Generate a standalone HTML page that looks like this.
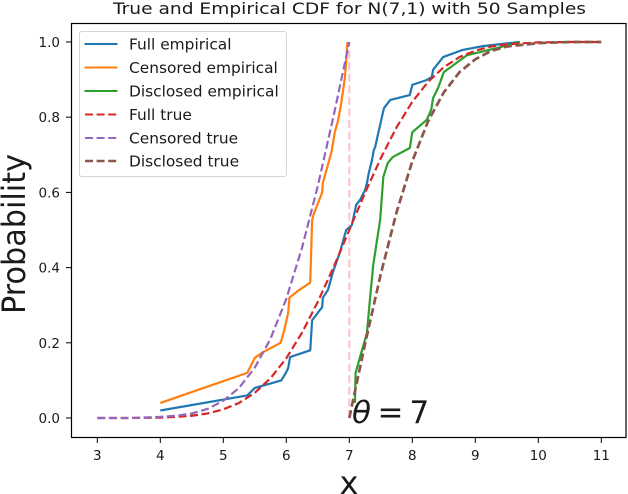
<!DOCTYPE html>
<html>
<head>
<meta charset="utf-8">
<title>True and Empirical CDF</title>
<style>
html,body{margin:0;padding:0;background:#fff;width:628px;height:494px;overflow:hidden}
svg{display:block;position:absolute;left:0;top:0;filter:blur(0.35px)}
text{font-family:"DejaVu Sans","Liberation Sans",sans-serif;fill:#1a1a1a}
</style>
</head>
<body>
<svg id="chart" width="628" height="494" viewBox="0 0 628 494" xmlns="http://www.w3.org/2000/svg"></svg>
<script>
const xTicks = [3,4,5,6,7,8,9,10,11];
const yTicks = [0,0.2,0.4,0.6,0.8,1.0];
const yTickLabels = ["0.0","0.2","0.4","0.6","0.8","1.0"];

const fullEmpX = [4.0,5.38,5.5,5.92,6.0,6.03,6.06,6.38,6.41,6.57,6.58,6.66,6.74,6.85,6.95,7.01,7.04,7.11,7.17,7.25,7.28,7.31,7.36,7.39,7.41,7.46,7.55,7.65,7.96,8.0,8.23,8.31,8.33,8.49,8.8,9.12,9.7];
const fullEmpY = [.02,.06,.08,.10,.122,.133,.162,.18,.26,.295,.32,.34,.388,.44,.5,.508,.513,.567,.58,.606,.625,.652,.686,.713,.72,.758,.824,.846,.859,.886,.899,.907,.926,.96,.979,.989,1.0];

const censEmpX = [4.0,5.38,5.5,5.63,5.91,5.97,6.03,6.05,6.2,6.38,6.41,6.43,6.57,6.58,6.65,6.72,6.77,6.82,6.87,6.93,6.95,6.97];
const censEmpY = [.04,.12,.16,.175,.2,.235,.28,.32,.34,.36,.525,.54,.6,.625,.667,.71,.76,.79,.835,.905,.95,1.0];

const discEmpX = [7.09,7.10,7.15,7.28,7.33,7.38,7.44,7.49,7.54,7.61,7.69,7.96,8.0,8.23,8.3,8.33,8.41,8.5,8.87,9.34,9.71];
const discEmpY = [.04,.12,.15,.226,.32,.407,.473,.527,.641,.678,.694,.718,.76,.793,.82,.851,.878,.92,.965,.984,1.0];

const fullTrueX = [3,3.5,4,4.25,4.5,4.75,5,5.25,5.5,5.75,6,6.25,6.5,6.75,7,7.25,7.5,7.75,8,8.25,8.5,8.75,9,9.25,9.5,10,10.5,11];
const fullTrueY = [0,0,.001,.003,.006,.012,.023,.040,.067,.106,.159,.227,.309,.401,.5,.599,.691,.773,.841,.894,.933,.960,.977,.988,.994,.999,1,1];

const censTrueX = [3,3.5,4,4.25,4.5,4.75,5,5.25,5.5,5.75,6,6.25,6.5,6.75,7];
const censTrueY = [0,0,.003,.006,.012,.024,.046,.080,.134,.211,.317,.453,.617,.803,1.0];

const discTrueX = [7,7.25,7.5,7.75,8,8.25,8.5,8.75,9,9.25,9.5,10,10.5,11];
const discTrueY = [0,.197,.383,.547,.683,.789,.866,.920,.954,.976,.988,.997,1,1];

const thetaValue = 7;
const NS = "http://www.w3.org/2000/svg";
const svg = document.getElementById("chart");

const sx = v => 97.3 + (v - 3) * 63;
const sy = v => 418 - v * 376;

function make(tag, attrs, parent, text) {
  const el = document.createElementNS(NS, tag);
  for (const k in attrs) el.setAttribute(k, attrs[k]);
  if (text !== undefined) el.textContent = text;
  (parent || svg).appendChild(el);
  return el;
}

function drawSeries(xs, ys, name, color, width, dash) {
  const pts = xs.map((x, i) => sx(x).toFixed(2) + "," + sy(ys[i]).toFixed(2)).join(" ");
  const el = make("polyline", {points: pts, fill: "none", stroke: color, "stroke-width": width, "stroke-linejoin": "round"});
  if (dash) el.setAttribute("stroke-dasharray", dash);
  
  
}

/* reference line */
const refLine = make("line", {x1: sx(thetaValue), x2: sx(thetaValue), y1: sy(0), y2: sy(1), stroke: "#ffc0cb", "stroke-width": 2, "stroke-dasharray": "8 3.6"});



/* series */
const DASH = "8 3.6";
drawSeries(fullEmpX, fullEmpY, "full-empirical-line", "#1f77b4", 2.2);
drawSeries(censEmpX, censEmpY, "censored-empirical-line", "#ff7f0e", 2.2);
drawSeries(discEmpX, discEmpY, "disclosed-empirical-line", "#2ca02c", 2.2);
drawSeries(fullTrueX, fullTrueY, "full-true-line", "#d62728", 2.2, DASH);
drawSeries(censTrueX, censTrueY, "censored-true-line", "#9467bd", 2.2, DASH);
drawSeries(discTrueX, discTrueY, "disclosed-true-line", "#8c564b", 2.7, DASH);

/* axes frame */
const frame = make("rect", {x: 71.5, y: 23.5, width: 554.5, height: 414, fill: "none", stroke: "#000", "stroke-width": 1.2});



/* ticks */
xTicks.forEach(t => {
  const tick = make("line", {x1: sx(t), x2: sx(t), y1: 437.5, y2: 443, stroke: "#000", "stroke-width": 1});
  
  
  const label = make("text", {x: sx(t), y: 460, "font-size": 13.5, "text-anchor": "middle"}, svg, String(t));
  
  
});
yTicks.forEach((t, i) => {
  const tick = make("line", {x1: 66, x2: 71.5, y1: sy(t), y2: sy(t), stroke: "#000", "stroke-width": 1});
  
  
  const label = make("text", {x: 60, y: sy(t) + 5, "font-size": 13.5, "text-anchor": "end"}, svg, yTickLabels[i]);
  
  
});
</script>

<svg width="628" height="494" viewBox="0 0 628 494" xmlns="http://www.w3.org/2000/svg">
  <text x="349.5" y="14" font-size="16" text-anchor="middle" textLength="473" lengthAdjust="spacingAndGlyphs">True and Empirical CDF for N(7,1) with 50 Samples</text>
  <text x="349" y="494" font-size="32" text-anchor="middle">x</text>
  <text transform="translate(25,234) rotate(-90)" font-size="32" text-anchor="middle" textLength="160" lengthAdjust="spacingAndGlyphs">Probability</text>
  <g font-size="31">
    <text x="352" y="423" font-style="italic" font-size="31">θ</text>
    <text x="377.5" y="423" font-size="31">=</text>
    <text x="409.5" y="423" font-size="31">7</text>
  </g>

  <g>
    <rect x="79.5" y="31.5" width="207" height="145" rx="2.5" fill="#fff" fill-opacity="0.8" stroke="#d5d5d5" stroke-width="1"/>
    <g>
      <line x1="84.5" x2="117.5" y1="44" y2="44" stroke="#1f77b4" stroke-width="2"/>
      <text x="129" y="49.5" font-size="15.4">Full empirical</text>
    </g>
    <g>
      <line x1="84.5" x2="117.5" y1="67.5" y2="67.5" stroke="#ff7f0e" stroke-width="2"/>
      <text x="129" y="73" font-size="15.4">Censored empirical</text>
    </g>
    <g>
      <line x1="84.5" x2="117.5" y1="91" y2="91" stroke="#2ca02c" stroke-width="2"/>
      <text x="129" y="96.5" font-size="15.4">Disclosed empirical</text>
    </g>
    <g>
      <line x1="85" x2="117.5" y1="114.5" y2="114.5" stroke="#d62728" stroke-width="2" stroke-dasharray="8 3.6"/>
      <text x="129" y="120" font-size="15.4">Full true</text>
    </g>
    <g>
      <line x1="85" x2="117.5" y1="138" y2="138" stroke="#9467bd" stroke-width="2" stroke-dasharray="8 3.6"/>
      <text x="129" y="143.5" font-size="15.4">Censored true</text>
    </g>
    <g>
      <line x1="85" x2="117.5" y1="161" y2="161" stroke="#8c564b" stroke-width="2.6" stroke-dasharray="8 3.6"/>
      <text x="129" y="166.5" font-size="15.4">Disclosed true</text>
    </g>
  </g>
</svg>
</body>
</html>
